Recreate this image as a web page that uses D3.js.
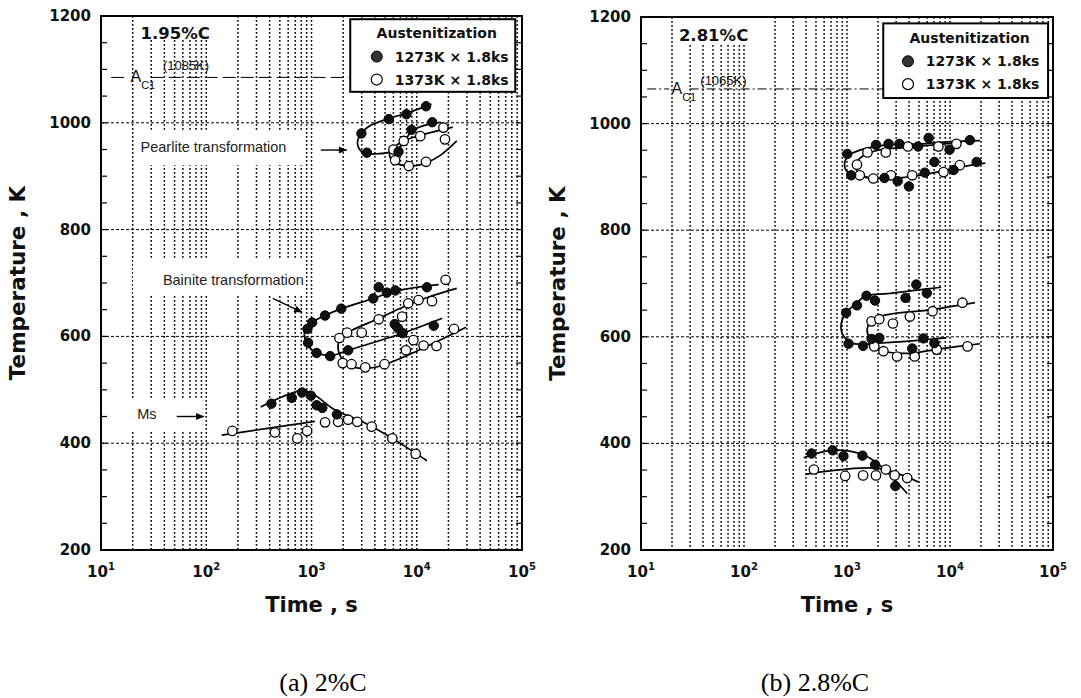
<!DOCTYPE html>
<html><head><meta charset="utf-8">
<script src="https://cdn.jsdelivr.net/npm/d3@7"></script>
<style>body{margin:0;background:#fff}</style>
</head><body><svg id="c" width="1081" height="698"></svg>
<script>
// ---------- shared labels ----------
const timeTickExps = [1, 2, 3, 4, 5];
const tempTicks = [200, 400, 600, 800, 1000, 1200];
const legendTitle = "Austenitization";
const legendLabels = ["1273K × 1.8ks", "1373K × 1.8ks"];
const captions = ["(a) 2%C", "(b) 2.8%C"];
const compLabels = ["1.95%C", "2.81%C"];
const ac1Values = [1085, 1065];

// ---------- panel (a) 1.95%C : [time s, temperature K] ----------
const aPearliteFilled = [[12250,1031],[7980,1016],[5430,1007],[2980,980],[3360,944],[14030,1001],[8930,987],[6710,946]];
const aPearliteOpen = [[17900,991],[18540,969],[10800,975],[7520,966],[6000,950],[6230,930],[8410,919],[12250,927]];
const aPearliteFilledCurve = [[13800,1035],[8000,1018],[5400,1008],[3500,993],[2850,975],[2750,958],[3100,944],[4200,942],[5800,946],[7300,958],[9000,985],[13500,998],[17000,1001]];
const aPearliteOpenCurve = [[22000,992],[11000,977],[7500,966],[6000,953],[5500,940],[6000,928],[8400,919],[12250,925],[17000,940],[24000,966]];

const aBainiteFilled = [[4350,692],[5200,682],[6260,686],[3860,671],[1920,652],[1345,639],[1015,626],[915,614],[928,588],[1118,569],[1504,563],[2230,574],[6170,623],[6650,615],[7330,606],[12500,692],[14500,620]];
const aBainiteOpen = [[18800,706],[8300,662],[10400,668],[13960,666],[4350,632],[7260,637],[2180,607],[3000,607],[1840,597],[9290,593],[7890,574],[11600,583],[15400,582],[22600,614],[1980,550],[2400,548],[3240,542],[4940,548]];
const aBainiteFilledCurve = [[16200,697],[6260,685],[3860,671],[1920,652],[1345,639],[1015,626],[861,609],[875,593],[1000,575],[1250,566],[1560,564],[2230,574],[7330,606],[17450,634]];
const aBainiteOpenCurve = [[24000,690],[13960,676],[7430,655],[4410,634],[2440,612],[1950,601],[1790,585],[1880,563],[2270,546],[3050,540],[4760,546],[29400,617]];

const aMsFilled = [[416,474],[650,485],[813,495],[986,489],[1118,471],[1267,466],[1745,454]];
const aMsOpen = [[177,423],[449,420],[733,409],[908,423],[1345,439],[1790,440],[2230,444],[2720,440],[3730,431],[5860,409],[9770,380]];
const aMsFilledCurve = [[328,468],[830,499],[1037,492],[1682,462],[3050,440],[5860,409],[12500,367]];
const aMsOpenCurve = [[140,415],[1077,441]];

// ---------- panel (b) 2.81%C ----------
const bPearliteFilled = [[1005,943],[1914,960],[2530,962],[3225,962],[4900,957],[6200,973],[15600,969],[9910,951],[7050,928],[18150,928],[10840,913],[5690,908],[3105,892],[3990,882],[2310,898],[1100,903]];
const bPearliteOpen = [[1580,946],[2380,946],[3900,957],[7710,957],[11530,962],[1250,923],[1330,903],[1800,897],[2670,903],[4300,903],[8650,909],[12450,922]];
const bPearliteFilledCurve = [[19600,968],[10000,966],[5000,962],[2500,960],[1500,953],[1080,942],[950,927],[1000,910],[1300,901],[2200,897],[4000,900],[8000,910],[13000,919],[22000,926]];
const bPearliteOpenCurve = [[13000,965],[7000,960],[3500,955],[2000,950],[1450,940],[1220,925],[1280,908],[1600,899]];

const bBainiteFilled = [[4710,698],[5960,682],[3700,673],[1545,677],[1870,668],[1250,659],[982,645],[1035,587],[1433,583],[1733,596],[2060,598],[5520,597],[4300,578],[7050,588]];
const bBainiteOpen = [[13200,664],[6780,648],[4080,638],[2790,625],[1730,629],[2060,633],[1840,582],[2260,573],[3060,563],[4540,563],[7430,576],[14800,582]];
const bBainiteFilledCurve = [[8200,693],[4500,687],[2500,681],[1515,676],[1200,661],[982,645],[883,627],[905,605],[1093,589],[1455,586],[2020,588],[4000,592],[9200,598]];
const bBainiteOpenCurve = [[17500,664],[6680,651],[2170,639],[1680,627],[1570,614],[1680,595],[2260,574],[4020,569],[7710,577],[19600,587]];

const bMsFilled = [[453,381],[725,387],[923,376],[1412,377],[1873,360],[2947,320]];
const bMsOpen = [[477,351],[960,339],[1433,340],[1910,340],[2380,351],[2900,340],[3840,335]];
const bMsFilledCurve = [[380,373],[699,387],[1380,380],[2018,361],[3840,306]];
const bMsOpenCurve = [[395,342],[2018,353],[5010,327]];

// ---------- layout ----------
const panels = [
  { x0:101, x1:522, y0:16, y1:550, comp:0,
    filled:[aPearliteFilled,aBainiteFilled,aMsFilled],
    open:[aPearliteOpen,aBainiteOpen,aMsOpen],
    curves:[aPearliteFilledCurve,aPearliteOpenCurve,aBainiteFilledCurve,aBainiteOpenCurve,aMsFilledCurve,aMsOpenCurve],
    legend:{l:0.592,r:0.984,t:0.006,b:0.142,ty:0.031,r1:0.076,r2:0.119,mx:0.655,tx:0.698},
    ac1:{dash:"13,5", from:0.024, gapA:0.062, gapB:0.118, to:0.592, ax:0.07, kx:0.147, kT:1107},
    notes:[
      {text:"Pearlite transformation", fx:0.094, T:955, box:[0.078,0.485,983,921], arrow:[0.522,949,0.584,949]},
      {text:"Bainite transformation", fx:0.147, T:706, box:[0.075,0.485,745,678], arrow:[0.408,671,0.478,645]},
      {text:"Ms", fx:0.086, T:455, box:[0.065,0.24,483,421], arrow:[0.18,450,0.245,450]}
    ],
    compBox:[0.078,0.265,1200,1155], compFx:0.094, compT:1169, capX:323
  },
  { x0:641, x1:1053, y0:17, y1:550, comp:1,
    filled:[bPearliteFilled,bBainiteFilled,bMsFilled],
    open:[bPearliteOpen,bBainiteOpen,bMsOpen],
    curves:[bPearliteFilledCurve,bPearliteOpenCurve,bBainiteFilledCurve,bBainiteOpenCurve,bMsFilledCurve,bMsOpenCurve],
    legend:{l:0.588,r:0.988,t:0.012,b:0.152,ty:0.04,r1:0.083,r2:0.126,mx:0.648,tx:0.691},
    ac1:{dash:"9,3,2,3", from:0.015, gapA:0.068, gapB:0.118, to:0.588, ax:0.074, kx:0.144, kT:1079},
    notes:[],
    compBox:[0.086,0.26,1200,1150], compFx:0.092, compT:1166, capX:815
  }
];

const svg = d3.select("#c");
const boldFont = "DejaVu Sans, Verdana, sans-serif";
const plainFont = "Liberation Sans, Arial, sans-serif";

panels.forEach(p => {
  const x = d3.scaleLog().domain([10, 1e5]).range([p.x0, p.x1]);
  const y = d3.scaleLinear().domain([200, 1200]).range([p.y1, p.y0]);
  const fx = f => p.x0 + f*(p.x1-p.x0);
  const g = svg.append("g");

  // vertical dotted grid (log subdivisions)
  const vLines = [];
  for (let k = 1; k <= 4; k++) for (let m = 2; m <= 10; m++) { const v = m*Math.pow(10,k); if (v < 1e5) vLines.push(v); }
  g.selectAll("line.vg").data(vLines).join("line")
    .attr("x1", d=>x(d)).attr("x2", d=>x(d)).attr("y1", p.y0).attr("y2", p.y1)
    .attr("stroke","#000").attr("stroke-width",1.5).attr("stroke-dasharray","1.8,2.2");
  // horizontal dotted grid
  g.selectAll("line.hg").data(tempTicks.filter(t=>t>200&&t<1200)).join("line")
    .attr("x1", p.x0).attr("x2", p.x1).attr("y1", d=>y(d)).attr("y2", d=>y(d))
    .attr("stroke","#000").attr("stroke-width",1).attr("stroke-dasharray","3,2");

  // white boxes under labels (interrupt grid)
  const wbox = (b) => g.append("rect").attr("x", Math.round(fx(b[0]))).attr("width", Math.round(fx(b[1])-fx(b[0])))
      .attr("y", Math.round(y(b[2]))).attr("height", Math.round(y(b[3])-y(b[2]))).attr("fill","#fff");
  wbox(p.compBox);
  p.notes.forEach(n => wbox(n.box));

  // minor y ticks every 50 K
  const yMinor = d3.range(250, 1200, 50);
  g.selectAll("line.ytl").data(yMinor).join("line")
    .attr("x1", p.x0).attr("x2", p.x0+6).attr("y1", d=>y(d)).attr("y2", d=>y(d)).attr("stroke","#000").attr("stroke-width",1.2);
  g.selectAll("line.ytr").data(yMinor).join("line")
    .attr("x1", p.x1-6).attr("x2", p.x1).attr("y1", d=>y(d)).attr("y2", d=>y(d)).attr("stroke","#000").attr("stroke-width",1.2);

  // A_C1 line
  const ac = p.ac1, yAc = y(ac1Values[p.comp]);
  [[ac.from, ac.gapA],[ac.gapB, ac.to]].forEach(s => {
    g.append("line").attr("x1", fx(s[0])).attr("x2", fx(s[1])).attr("y1", yAc).attr("y2", yAc)
     .attr("stroke","#000").attr("stroke-width",1).attr("stroke-dasharray", ac.dash);
  });
  const at = g.append("text").attr("x", fx(ac.ax)).attr("y", yAc+5).attr("font-family",plainFont)
    .attr("font-size",16).attr("fill","#111");
  at.append("tspan").text("A");
  at.append("tspan").attr("dy",7).attr("font-size",11).text("C1");
  g.append("text").attr("x", fx(ac.kx)).attr("y", y(ac.kT)+4).attr("font-family",plainFont)
    .attr("font-size",13).attr("fill","#111").text("(" + ac1Values[p.comp] + "K)");

  // composition label
  g.append("text").attr("x", fx(p.compFx)).attr("y", y(p.compT)+6).attr("font-family",boldFont)
    .attr("font-weight","bold").attr("font-size",16.5).attr("fill","#111").text(compLabels[p.comp]);

  // notes with arrows
  p.notes.forEach(n => {
    g.append("text").attr("x", fx(n.fx)).attr("y", y(n.T)+5).attr("font-family",plainFont)
      .attr("font-size",14.5).attr("fill","#222").text(n.text);
    const a = n.arrow, xa = fx(a[0]), ya = y(a[1]), xb = fx(a[2]), yb = y(a[3]);
    g.append("line").attr("x1",xa).attr("y1",ya).attr("x2",xb).attr("y2",yb).attr("stroke","#000").attr("stroke-width",1.4);
    const ang = Math.atan2(yb-ya, xb-xa), L = 8, W = 3.5;
    const pts = [[xb,yb],[xb-L*Math.cos(ang)+W*Math.sin(ang), yb-L*Math.sin(ang)-W*Math.cos(ang)],[xb-L*Math.cos(ang)-W*Math.sin(ang), yb-L*Math.sin(ang)+W*Math.cos(ang)]];
    g.append("polygon").attr("points", pts.map(q=>q.join(",")).join(" ")).attr("fill","#000");
  });

  // curves
  const line = d3.line().x(d=>x(d[0])).y(d=>y(d[1])).curve(d3.curveCatmullRom.alpha(0.5));
  g.selectAll("path.cv").data(p.curves).join("path").attr("d", line)
    .attr("fill","none").attr("stroke","#000").attr("stroke-width",1.7);

  // points
  p.open.forEach(arr => g.selectAll(null).data(arr).join("circle")
    .attr("cx", d=>x(d[0])).attr("cy", d=>y(d[1])).attr("r",4.7)
    .attr("fill","#fff").attr("stroke","#000").attr("stroke-width",1.3));
  p.filled.forEach(arr => g.selectAll(null).data(arr).join("circle")
    .attr("cx", d=>x(d[0])).attr("cy", d=>y(d[1])).attr("r",4.7)
    .attr("fill","#111").attr("stroke","#000").attr("stroke-width",1));

  // legend
  const lg = p.legend, yf = f => y(1200 - f*1000);
  g.append("rect").attr("x", fx(lg.l)).attr("y", yf(lg.t)).attr("width", fx(lg.r)-fx(lg.l)).attr("height", yf(lg.b)-yf(lg.t))
    .attr("fill","#fff").attr("stroke","#000").attr("stroke-width",2);
  g.append("text").attr("x", (fx(lg.l)+fx(lg.r))/2 + 4).attr("y", yf(lg.ty)+5).attr("text-anchor","middle")
    .attr("font-family",boldFont).attr("font-weight","bold").attr("font-size",14).attr("fill","#111").text(legendTitle);
  [lg.r1, lg.r2].forEach((r,i) => {
    g.append("circle").attr("cx", fx(lg.mx)).attr("cy", yf(r)).attr("r",5.5)
      .attr("fill", i===0 ? "#333" : "#fff").attr("stroke","#000").attr("stroke-width", i===0?1:1.2);
    g.append("text").attr("x", fx(lg.tx)).attr("y", yf(r)+5).attr("font-family",boldFont)
      .attr("font-weight","bold").attr("font-size",14).attr("fill","#111").text(legendLabels[i]);
  });

  // frame
  g.append("rect").attr("x",p.x0).attr("y",p.y0).attr("width",p.x1-p.x0).attr("height",p.y1-p.y0)
    .attr("fill","none").attr("stroke","#000").attr("stroke-width",2);

  // y tick labels
  g.selectAll("text.yl").data(tempTicks).join("text")
    .attr("x", p.x0-10).attr("y", d=>y(d)+5).attr("text-anchor","end")
    .attr("font-family",boldFont).attr("font-weight","bold").attr("font-size",15).attr("fill","#111").text(d=>d);
  // x tick labels 10^n
  timeTickExps.forEach(e => {
    const t = g.append("text").attr("x", x(Math.pow(10,e))).attr("y", p.y1+27).attr("text-anchor","middle")
      .attr("font-family",boldFont).attr("font-weight","bold").attr("font-size",15).attr("fill","#111");
    t.append("tspan").text("10");
    t.append("tspan").attr("dy",-7).attr("font-size",10).text(e);
  });
  // axis titles
  g.append("text").attr("x",(p.x0+p.x1)/2).attr("y",p.y1+62).attr("text-anchor","middle")
    .attr("font-family",boldFont).attr("font-weight","bold").attr("font-size",21).attr("fill","#111").text("Time , s");
  g.append("text").attr("transform",`translate(${p.x0-76},${(p.y0+p.y1)/2}) rotate(-90)`).attr("text-anchor","middle")
    .attr("font-family",boldFont).attr("font-weight","bold").attr("font-size",21.5).attr("fill","#111").text("Temperature , K");
  // caption
  svg.append("text").attr("x",p.capX).attr("y",691).attr("text-anchor","middle")
    .attr("font-family","Liberation Serif, Times New Roman, serif").attr("font-size",26).attr("fill","#000").text(captions[p.comp]);
});
</script>
</body></html>
